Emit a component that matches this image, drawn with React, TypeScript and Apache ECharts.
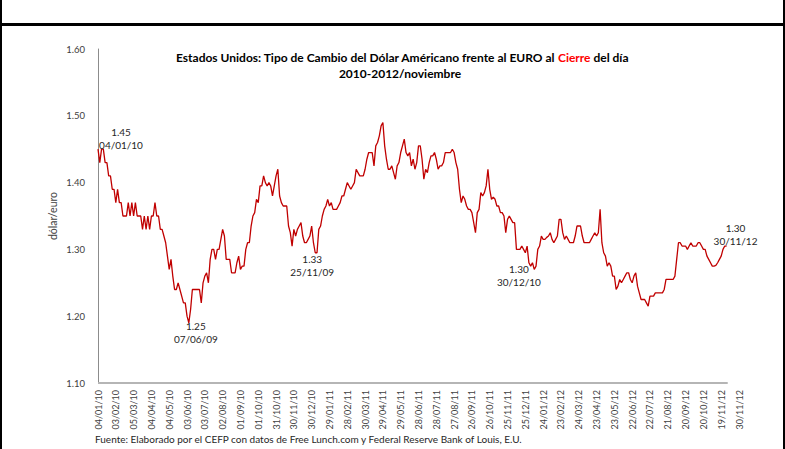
import React, { useEffect, useRef } from "react";
import * as echarts from "echarts";

// Sampling step of the series (calendar days between values), starting 04/01/2010
const STEP_DAYS = 3;
const LAST_DAY = 1061; // 30/11/2012 counted from 04/01/2010
const LABEL_EVERY_DAYS = 30;

const tickLabels = [
  "04/01/10", "03/02/10", "05/03/10", "04/04/10", "04/05/10", "03/06/10", "03/07/10",
  "02/08/10", "01/09/10", "01/10/10", "31/10/10", "30/11/10", "30/12/10", "29/01/11",
  "28/02/11", "30/03/11", "29/04/11", "29/05/11", "28/06/11", "28/07/11", "27/08/11",
  "26/09/11", "26/10/11", "25/11/11", "25/12/11", "24/01/12", "23/02/12", "24/03/12",
  "23/04/12", "23/05/12", "22/06/12", "22/07/12", "21/08/12", "20/09/12", "20/10/12",
  "19/11/12", "30/11/12",
];

const yTicks = [1.1, 1.2, 1.3, 1.4, 1.5, 1.6];

// dólar por euro, close of day, one value every STEP_DAYS days
const rate2010 = [
  1.45, 1.43, 1.45, 1.45, 1.43, 1.43, 1.41, 1.41, 1.39, 1.39,
  1.37, 1.39, 1.37, 1.37, 1.35, 1.35, 1.35, 1.37, 1.35, 1.37,
  1.35, 1.37, 1.35, 1.35, 1.35, 1.33, 1.35, 1.33, 1.35, 1.33,
  1.35, 1.35, 1.37, 1.35, 1.35, 1.33, 1.33, 1.32, 1.31, 1.29,
  1.27, 1.285, 1.26, 1.24, 1.24, 1.25, 1.24, 1.23, 1.22, 1.22,
  1.20, 1.19, 1.21, 1.24, 1.24, 1.24, 1.24, 1.24, 1.22, 1.25,
  1.26, 1.265, 1.25, 1.285, 1.30, 1.30, 1.285, 1.30, 1.30, 1.315,
  1.33, 1.32, 1.285, 1.285, 1.285, 1.265, 1.265, 1.265, 1.28, 1.29,
  1.27, 1.275, 1.275, 1.30, 1.31, 1.31, 1.335, 1.35, 1.355, 1.375,
  1.37, 1.395, 1.395, 1.41, 1.40, 1.395, 1.40, 1.395, 1.38, 1.395,
  1.41, 1.42, 1.38, 1.37, 1.365, 1.365, 1.365, 1.335, 1.325, 1.305,
  1.33, 1.32, 1.33, 1.335, 1.34, 1.32, 1.31, 1.31, 1.315, 1.32,
  1.335,
];

const rate2011 = [
  1.31, 1.295, 1.295, 1.33, 1.335, 1.35, 1.36, 1.365, 1.375, 1.365,
  1.37, 1.36, 1.36, 1.36, 1.365, 1.37, 1.38, 1.38, 1.39, 1.40,
  1.395, 1.39, 1.395, 1.40, 1.42, 1.415, 1.41, 1.41, 1.41, 1.42,
  1.435, 1.445, 1.445, 1.445, 1.425, 1.455, 1.46, 1.47, 1.485, 1.49,
  1.455, 1.435, 1.42, 1.42, 1.425, 1.415, 1.405, 1.425, 1.43, 1.445,
  1.455, 1.465, 1.445, 1.44, 1.445, 1.425, 1.435, 1.42, 1.43, 1.455,
  1.455, 1.435, 1.405, 1.42, 1.415, 1.43, 1.44, 1.44, 1.445, 1.435,
  1.42, 1.425, 1.425, 1.43, 1.445, 1.445, 1.445, 1.445, 1.45, 1.445,
  1.43, 1.42, 1.39, 1.37, 1.38, 1.375, 1.365, 1.36, 1.36, 1.355,
  1.34, 1.325, 1.355, 1.36, 1.385, 1.38, 1.385, 1.395, 1.42, 1.39,
  1.375, 1.378, 1.375, 1.365, 1.365, 1.355, 1.355, 1.35, 1.325, 1.345,
  1.35, 1.345, 1.34, 1.34, 1.30, 1.30, 1.30, 1.305, 1.30, 1.295,
  1.305,
];

const rate2012 = [
  1.28, 1.275, 1.28, 1.27, 1.275, 1.30, 1.305, 1.32, 1.315, 1.315,
  1.318, 1.32, 1.325, 1.315, 1.31, 1.315, 1.32, 1.345, 1.345, 1.325,
  1.315, 1.32, 1.315, 1.31, 1.31, 1.31, 1.32, 1.335, 1.335, 1.335,
  1.32, 1.31, 1.31, 1.31, 1.31, 1.315, 1.32, 1.325, 1.32, 1.325,
  1.36, 1.31, 1.295, 1.29, 1.275, 1.28, 1.275, 1.26, 1.26, 1.24,
  1.245, 1.255, 1.25, 1.255, 1.26, 1.265, 1.265, 1.255, 1.25, 1.26,
  1.265, 1.245, 1.235, 1.225, 1.225, 1.225, 1.22, 1.215, 1.23, 1.23,
  1.23, 1.235, 1.235, 1.235, 1.235, 1.235, 1.24, 1.255, 1.255, 1.255,
  1.255, 1.255, 1.26, 1.285, 1.31, 1.31, 1.305, 1.305, 1.305, 1.30,
  1.305, 1.31, 1.305, 1.305, 1.305, 1.31, 1.31, 1.305, 1.30, 1.30,
  1.29, 1.285, 1.28, 1.275, 1.275, 1.276, 1.28, 1.285, 1.29, 1.30,
  1.305, 1.305,
];

// Annotated points: [index in full series, text]
const annotations: [number, string][] = [
  [0, "1.45\n04/01/10"],
  [51, "1.25\n07/06/09"],
  [122, "1.33\n25/11/09"],
  [242, "1.30\n30/12/10"],
  [353, "1.30\n30/11/12"],
];
const annotationOffsets: [number, number][] = [
  [23, -11],
  [7, 10],
  [-3, 13],
  [-10, 13],
  [9, -12],
];

const FONT = "Lato, 'Open Sans', sans-serif";

export default function App() {
  const ref = useRef<HTMLDivElement>(null);

  useEffect(() => {
    if (!ref.current) return;
    const chart = echarts.init(ref.current, null, { renderer: "svg" });
    const rates = [...rate2010, ...rate2011, ...rate2012];
    const seriesData = rates.map((v, i) => [i * STEP_DAYS, v]);
    const maxDay = (tickLabels.length - 1) * LABEL_EVERY_DAYS;

    chart.setOption({
      animation: false,
      backgroundColor: "#ffffff",
      textStyle: { fontFamily: FONT },
      title: [
        {
          text:
            "{b|Estados Unidos: Tipo de Cambio del Dólar Américano frente al EURO al }{r|Cierre}{b| del día}",
          left: 402,
          top: 51,
          textAlign: "center",
          padding: 0,
          textStyle: {
            rich: {
              b: { fontFamily: FONT, fontSize: 12, fontWeight: "bold", color: "#000" },
              r: { fontFamily: FONT, fontSize: 12, fontWeight: "bold", color: "#ff0000" },
            },
          },
        },
        {
          text: "2010-2012/noviembre",
          left: 400,
          top: 67,
          textAlign: "center",
          padding: 0,
          textStyle: { fontFamily: FONT, fontSize: 12, fontWeight: "bold", color: "#000" },
        },
      ],
      grid: { left: 98, right: 46, top: 49, bottom: 66, containLabel: false, outerBoundsMode: "none" },
      xAxis: {
        type: "value",
        min: 0,
        max: maxDay,
        interval: LABEL_EVERY_DAYS,
        axisLine: { show: false },
        axisTick: { show: false },
        splitLine: { show: false },
        axisLabel: {
          rotate: 90,
          margin: 7,
          fontSize: 9,
          color: "#404040",
          fontFamily: FONT,
          formatter: (v: number) => tickLabels[Math.round(v / LABEL_EVERY_DAYS)] ?? "",
        },
      },
      yAxis: {
        type: "value",
        min: yTicks[0],
        max: yTicks[yTicks.length - 1],
        interval: 0.1,
        name: "dólar/euro",
        nameLocation: "middle",
        nameRotate: 90,
        nameGap: 40,
        nameMoveOverlap: false,
        nameTextStyle: { fontSize: 10.5, color: "#404040", fontFamily: FONT },
        axisLine: { show: true, lineStyle: { color: "#8c8c8c", width: 1 } },
        axisTick: { show: false },
        splitLine: { show: false },
        axisLabel: {
          margin: 13,
          fontSize: 9.5,
          color: "#404040",
          fontFamily: FONT,
          formatter: (v: number) => v.toFixed(2),
        },
      },
      series: [
        {
          type: "line",
          data: seriesData,
          symbol: "none",
          clip: false,
          lineStyle: { color: "#c00000", width: 1.3 },
          markLine: {
            silent: true,
            symbol: ["none", "none"],
            label: { show: false },
            lineStyle: { color: "#b5b5b5", width: 2, type: "solid" },
            data: [[{ coord: [0, yTicks[0]] }, { coord: [LAST_DAY, yTicks[0]] }]],
          },
          markPoint: {
            silent: true,
            symbol: "circle",
            symbolSize: 1,
            itemStyle: { color: "rgba(0,0,0,0)" },
            data: annotations.map(([idx, text], k) => ({
              coord: seriesData[idx],
              label: {
                show: true,
                position: "inside",
                offset: annotationOffsets[k],
                formatter: text,
                color: "#262626",
                fontSize: 10,
                lineHeight: 13,
                fontFamily: FONT,
                align: "center",
                verticalAlign: "middle",
              },
            })),
          },
        },
      ],
      graphic: [
        { type: "rect", shape: { x: 0, y: 23, width: 785, height: 3 }, style: { fill: "#000" } },
        { type: "rect", shape: { x: 0, y: 0, width: 2, height: 449 }, style: { fill: "#000" } },
        { type: "rect", shape: { x: 783, y: 0, width: 2, height: 449 }, style: { fill: "#000" } },
        {
          type: "text",
          left: 95,
          top: 434,
          style: {
            text: "Fuente: Elaborado por el CEFP con datos de Free Lunch.com y Federal Reserve Bank of Louis, E.U.",
            fontSize: 10,
            fontFamily: FONT,
            fill: "#262626",
          },
        },
      ],
    });

    return () => chart.dispose();
  }, []);

  return (
    <div
      ref={ref}
      style={{ position: "absolute", left: 0, top: 0, width: 785, height: 449, background: "#fff" }}
    />
  );
}
